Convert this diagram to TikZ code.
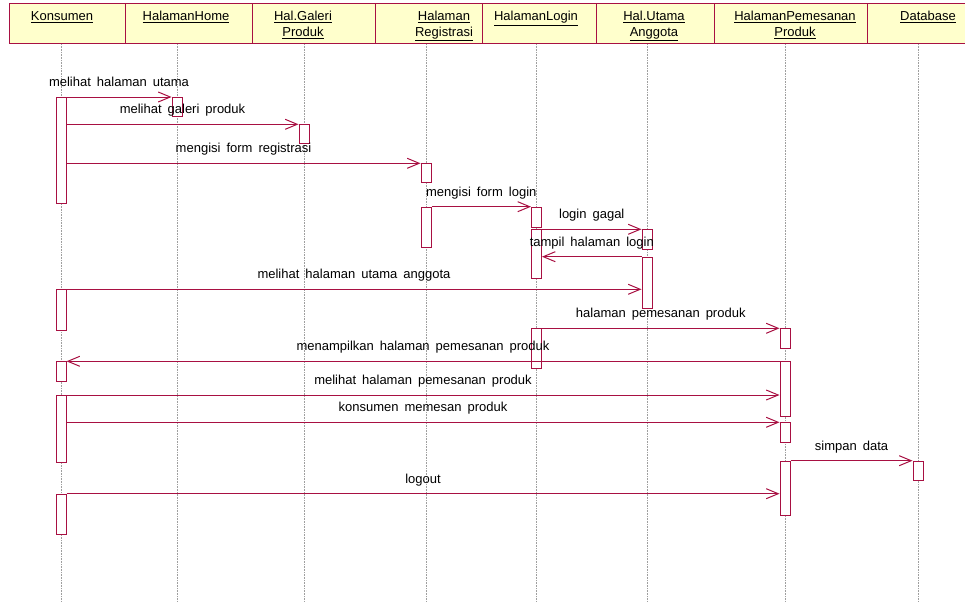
\documentclass[tikz,border=0pt]{standalone}
\usepackage{fontspec}
\setmainfont{Liberation Sans}
\usepackage{xcolor}
\usepackage{tikz}
\usetikzlibrary{arrows.meta,calc}
\definecolor{umlred}{RGB}{168,16,66}
\definecolor{umlyellow}{RGB}{255,255,204}
\newcommand{\msgfont}{\fontsize{13}{15.5}\selectfont\spaceskip=6pt\relax}
\tikzset{
  headcell/.style = {draw=umlred, fill=umlyellow, line width=1pt},
  headtxt/.style = {anchor=north, inner sep=0pt, align=center,
    font=\fontsize{13}{15.5}\selectfont},
  lifeline/.style = {draw=gray!75, densely dotted, line width=0.6pt},
  act/.style = {rectangle, draw=umlred, fill=white, line width=1pt,
    anchor=north, inner sep=0pt, minimum width=10pt},
  msg/.style = {draw=umlred, line width=1pt,
    -{Straight Barb[length=12pt,width=10pt]}},
  msglbl/.style = {midway, anchor=base, yshift=10.5pt, inner sep=0pt,
    font=\msgfont}
}

\begin{document}
\begin{tikzpicture}[x=1pt,y=-1pt]
  \useasboundingbox (0,0) rectangle (965,602);

  % header cells and lifelines
  \foreach \id/\xa/\xb/\tx/\lx/\lbl in {
      kons/9/125/62/61/{\underline{Konsumen}},
      home/125/252/186/177/{\underline{HalamanHome}},
      galeri/252/375/303/304/{\underline{Hal.Galeri}\\\underline{Produk}},
      regis/375/482/444/426/{\underline{Halaman}\\\underline{Registrasi}},
      login/482/596/536/536.5/{\underline{HalamanLogin}},
      utama/596/714/654/647/{\underline{Hal.Utama}\\\underline{Anggota}},
      pesan/714/867/795/785/{\underline{HalamanPemesanan}\\\underline{Produk}},
      db/867/975/928/918/{\underline{Database}}}{
    \draw[headcell] (\xa,4) rectangle (\xb,44);
    \node[headtxt] (t\id) at (\tx,11.3) {\lbl};
    \coordinate (ll\id) at (\lx,44);
    \draw[lifeline] (ll\id) -- ++(0,558);
  }

  % activations
  \foreach \id/\x/\ya/\yb in {
      k1/61/97/203, k2/61/289.3/330.3, k3/61/361.3/381,
      k4/61/395/462.3, k5/61/493.7/534,
      h1/177/97/116, g1/304/124.3/143,
      r1/426/163.3/182, r2/426/206.7/246.7,
      l1/536.5/206.7/226.7, l2/536.5/228.7/278.3, l3/536.5/328.3/368.3,
      u1/647/229.3/249, u2/647/256.7/308.3,
      p1/785/328.3/347.7, p2/785/361.3/416, p3/785/422.3/441.7,
      p4/785/460.7/515.3, d1/918/460.7/480.3}{
    \node[act, minimum height={(\yb-\ya)*1pt}] (\id) at (\x,\ya) {};
  }

  % messages
  \draw[msg] (k1.north east) -- node[msglbl]{melihat halaman utama} (h1.north west);
  \draw[msg] (k1.east |- g1.north) -- node[msglbl]{melihat galeri produk} (g1.north west);
  \draw[msg] (k1.east |- r1.north) -- node[msglbl]{mengisi form registrasi} (r1.north west);
  \draw[msg] (r2.north east) -- node[msglbl]{mengisi form login} (l1.north west);
  \draw[msg] (l2.east |- u1.north) -- node[msglbl]{login gagal} (u1.north west);
  \draw[msg] (u2.north west) -- node[msglbl]{tampil halaman login} (l2.east |- u2.north);
  \draw[msg] (k2.north east) -- node[msglbl]{melihat halaman utama anggota} (u2.west |- k2.north);
  \draw[msg] (l3.north east) -- node[msglbl]{halaman pemesanan produk} (p1.north west);
  \draw[msg] (p2.north west) -- node[msglbl]{menampilkan halaman pemesanan produk} (k3.north east);
  \draw[msg] (k4.north east) -- node[msglbl]{melihat halaman pemesanan produk} (p2.west |- k4.north);
  \draw[msg] (k4.east |- p3.north) -- node[msglbl]{konsumen memesan produk} (p3.north west);
  \draw[msg] (p4.north east) -- node[msglbl]{simpan data} (d1.north west);
  \draw[msg] (k5.north east) -- node[msglbl]{logout} (p4.west |- k5.north);

\end{tikzpicture}
\end{document}
